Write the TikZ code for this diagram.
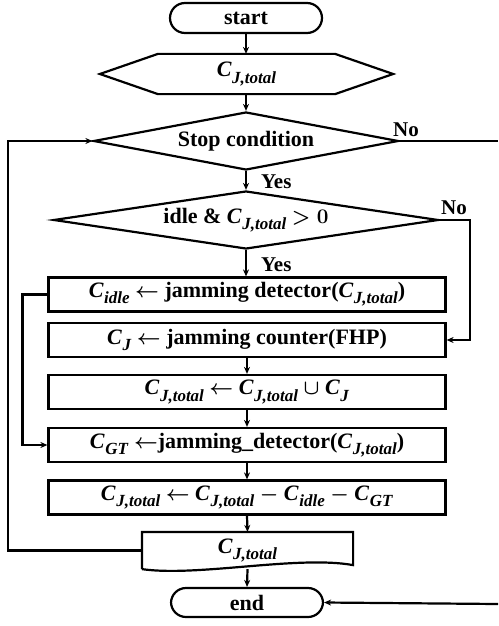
\documentclass[tikz,border=0pt]{standalone}
\usepackage{fontspec}
\setmainfont{Liberation Serif}
\usetikzlibrary{shapes.geometric,arrows.meta,calc}
\newcommand\Cs[1]{\textit{C}\kern0.5pt\raisebox{-0.28em}{\fontsize{17}{17}\selectfont\textit{#1}}}
\newcommand\CJt{\Cs{J,total}}
\tikzset{
  every node/.style={font=\fontsize{22}{26}\selectfont\bfseries\boldmath},
  arr/.style={-{Stealth[length=7pt,width=6pt]}, line width=2.2pt},
  proc/.style={draw, line width=2.2pt, minimum width=397, minimum height=34, inner sep=0},
  term/.style={draw, line width=2.2pt, rounded corners=15pt, minimum width=152, minimum height=30, inner sep=0},
  dec/.style={diamond, draw, line width=2.2pt, inner sep=0, shape aspect=5},
  plain/.style={inner sep=0},
  lbl/.style={font=\fontsize{21}{24}\selectfont\bfseries, inner sep=1pt}
}
\begin{document}
\begin{tikzpicture}[x=1pt, y=-1pt, line width=2.2pt]
\useasboundingbox (0,0) rectangle (498,626);
% nodes
\node[term] (start) at (246,18) {start};
\node[plain, minimum width=291, minimum height=38] (hex) at (246.5,74) {\CJt};
\draw (hex.west) -- ($(hex.north west)+(58,0)$) -- ($(hex.north east)+(-58,0)$) -- (hex.east)
  -- ($(hex.south east)+(-58,0)$) -- ($(hex.south west)+(58,0)$) -- cycle;
\node[dec, minimum width=305, minimum height=58] (stop) at (246,141) {Stop condition};
\node[dec, minimum width=385, minimum height=58] (idle) at (246,220) {idle \& \CJt\ $>0$};
\node[proc] (b1) at (247,294.5) {\Cs{idle} $\leftarrow$ jamming detector(\CJt)};
\node[proc] (b2) at (247,340) {\Cs{J} $\leftarrow$ jamming counter(FHP)};
\node[proc] (b3) at (247,392) {\CJt\ $\leftarrow$ \CJt\ $\cup$ \Cs{J}};
\node[proc] (b4) at (247,445) {\Cs{GT} $\leftarrow$jamming\_detector(\CJt)};
\node[proc] (b5) at (247,497.5) {\CJt\ $\leftarrow$ \CJt\ $-$ \Cs{idle} $-$ \Cs{GT}};
\node[plain, minimum width=209, minimum height=35] (out) at (247.5,550.5) {\CJt};
\draw (out.south west) -- (out.north west) -- (out.north east) -- ($(out.south east)+(0,-4)$)
  .. controls ($(out.south)+(50,-14)$) and ($(out.south)+(-50,8)$) .. (out.south west);
\node[term, minimum height=29] (end) at (247,602.5) {end};
% labels
\node[lbl, anchor=west] (yes1) at (259,182) {Yes};
\node[lbl, anchor=west] (yes2) at (259,265) {Yes};
\node[lbl] (no1) at (406,130) {No};
\node[lbl] (no2) at (454,208) {No};
\coordinate (rt1) at (498,141);
\coordinate (rt2) at (498,604);
% connectors
\draw[arr] (start.south) -- (start.south |- hex.north);
\draw[arr] (hex.south -| start) -- (stop.north);
\draw[arr] (stop.south) -- (idle.north);
\draw[arr] (idle.south) -- (idle.south |- b1.north);
\draw[arr] (b2.south) -- (b3.north);
\draw[arr] (b3.south) -- (b4.north);
\draw[arr] (b4.south) -- (b5.north);
\draw[arr] (b5.south) -- (out.north);
\draw[arr] (out.south) -- (end.north);
\draw (stop.east) -- (rt1);
\draw[arr] (rt2) -- (end.east);
\draw[arr] (idle.east) -- ++(30,0) |- (b2.east);
\draw[arr] (b1.west) -- ++(-25,0) |- (b4.west);
\draw[arr] (out.west) -- ++(-134,0) |- (stop.west);
\end{tikzpicture}
\end{document}
